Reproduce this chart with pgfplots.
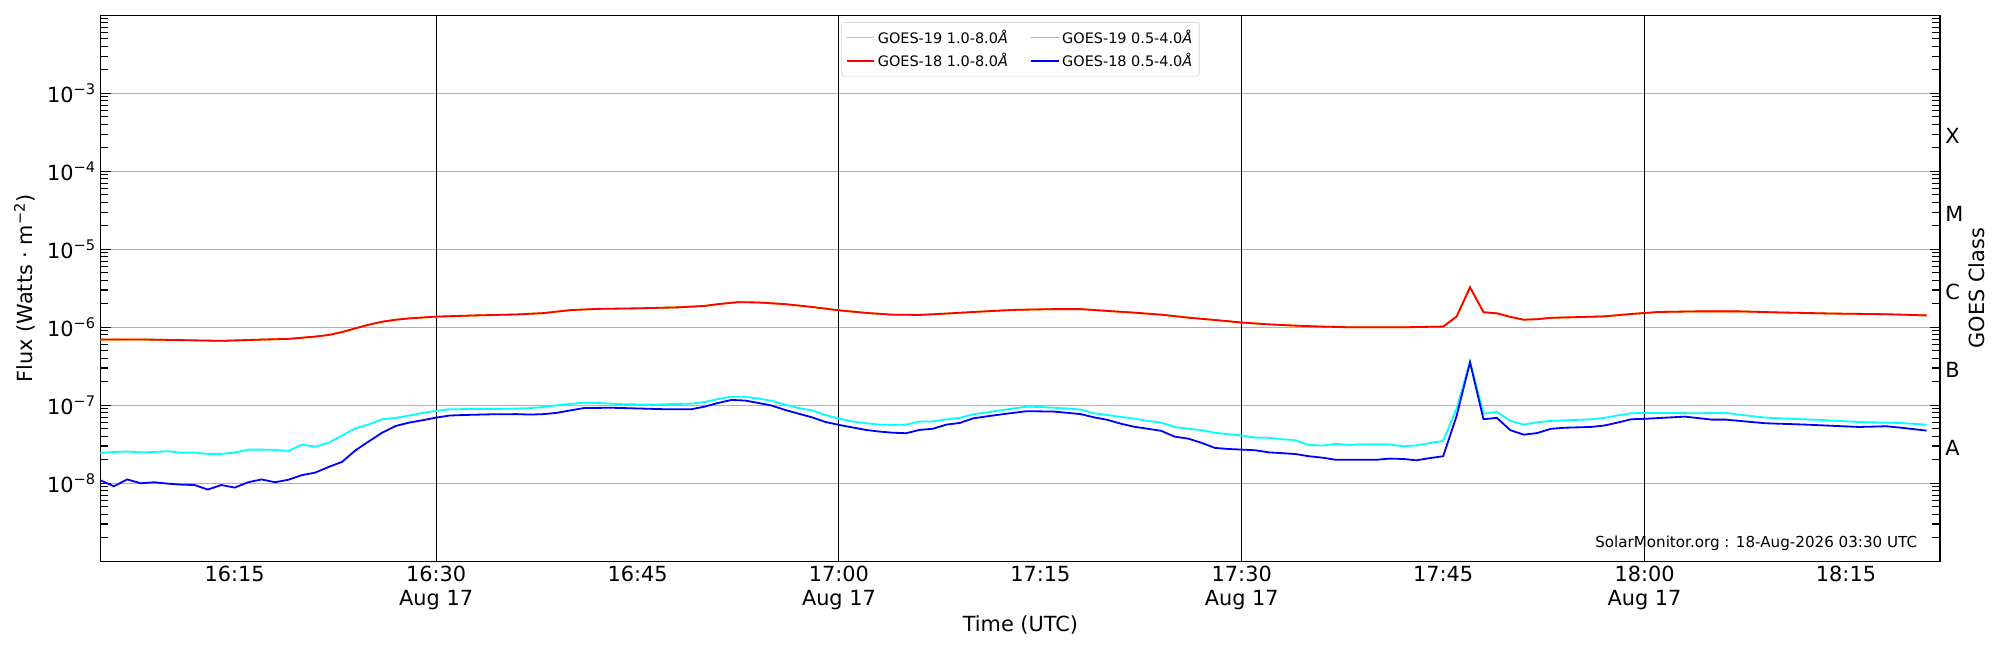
\documentclass[border=0pt]{standalone}
\usepackage{fontspec}
\setmainfont{DejaVu Sans}
\usepackage{pgfplots}
\usepackage{pgfplotstable}
\pgfplotsset{compat=1.18}

\definecolor{gold19}{HTML}{FFC000}
\definecolor{cyan19}{HTML}{00FFFF}
\definecolor{red18}{HTML}{FF0000}
\definecolor{blue18}{HTML}{0000FF}
\definecolor{gridgray}{HTML}{B0B0B0}

% time in minutes after 16:00 UT, flux in W m^-2
\pgfplotstableread{
t f
5 6.95e-7
8 6.98e-7
11 6.85e-7
14 6.7e-7
17 6.95e-7
19 7.1e-7
21 7.6e-7
22 7.97e-7
23 8.7e-7
24 9.7e-7
25 1.08e-6
26 1.18e-6
27 1.25e-6
28 1.3e-6
30 1.37e-6
33 1.42e-6
36 1.46e-6
38 1.52e-6
40 1.66e-6
42 1.72e-6
45 1.75e-6
48 1.80e-6
50 1.88e-6
51 1.98e-6
52.5 2.1e-6
54 2.08e-6
56 1.98e-6
58 1.82e-6
60 1.65e-6
62 1.53e-6
64 1.45e-6
66 1.44e-6
68 1.5e-6
70 1.57e-6
73 1.67e-6
76 1.71e-6
78 1.71e-6
80 1.62e-6
82 1.54e-6
84 1.45e-6
86 1.33e-6
88 1.24e-6
90 1.15e-6
92 1.09e-6
94 1.05e-6
96 1.02e-6
98 1.0e-6
102 1.0e-6
105 1.02e-6
106 1.37e-6
107 3.26e-6
108 1.56e-6
109 1.51e-6
110 1.36e-6
111 1.25e-6
112 1.27e-6
113 1.32e-6
115 1.35e-6
117 1.38e-6
119 1.48e-6
121 1.57e-6
124 1.6e-6
127 1.6e-6
130 1.55e-6
134 1.5e-6
138 1.47e-6
141 1.42e-6
}\longeighteen

\pgfplotstableread{
t f
5 6.93e-7
8 6.96e-7
11 6.83e-7
14 6.68e-7
17 6.93e-7
19 7.08e-7
21 7.58e-7
22 7.95e-7
23 8.68e-7
24 9.68e-7
25 1.078e-6
26 1.178e-6
27 1.248e-6
28 1.298e-6
30 1.368e-6
33 1.418e-6
36 1.458e-6
38 1.518e-6
40 1.658e-6
42 1.718e-6
45 1.748e-6
48 1.798e-6
50 1.878e-6
51 1.978e-6
52.5 2.098e-6
54 2.078e-6
56 1.978e-6
58 1.818e-6
60 1.648e-6
62 1.528e-6
64 1.448e-6
66 1.438e-6
68 1.498e-6
70 1.568e-6
73 1.668e-6
76 1.708e-6
78 1.708e-6
80 1.618e-6
82 1.538e-6
84 1.448e-6
86 1.328e-6
88 1.238e-6
90 1.148e-6
92 1.088e-6
94 1.048e-6
96 1.018e-6
98 0.998e-6
102 0.998e-6
105 1.018e-6
106 1.368e-6
107 3.25e-6
108 1.558e-6
109 1.508e-6
110 1.358e-6
111 1.248e-6
112 1.268e-6
113 1.318e-6
115 1.348e-6
117 1.378e-6
119 1.478e-6
121 1.568e-6
124 1.598e-6
127 1.598e-6
130 1.548e-6
134 1.498e-6
138 1.468e-6
141 1.418e-6
}\longnineteen

\pgfplotstableread{
t f
5 2.45e-8
6 2.52e-8
7 2.55e-8
8 2.49e-8
9 2.52e-8
10 2.57e-8
11 2.47e-8
12 2.47e-8
13 2.38e-8
14 2.38e-8
15 2.47e-8
16 2.70e-8
17 2.70e-8
18 2.68e-8
19 2.60e-8
20 3.13e-8
21 2.95e-8
22 3.32e-8
23 4.1e-8
24 5.07e-8
25 5.7e-8
26 6.62e-8
27 6.9e-8
28 7.38e-8
29 7.98e-8
30 8.46e-8
31 8.89e-8
33 8.95e-8
35 9.0e-8
37 9.2e-8
38 9.5e-8
39 1.0e-7
40 1.04e-7
41 1.08e-7
42 1.07e-7
44 1.03e-7
46 1.02e-7
48 1.04e-7
49 1.05e-7
50 1.1e-7
51 1.2e-7
52 1.29e-7
53 1.28e-7
54 1.22e-7
55 1.14e-7
56 1.02e-7
57 9.2e-8
58 8.6e-8
59 7.5e-8
60 6.75e-8
61 6.2e-8
62 5.9e-8
63 5.65e-8
64 5.6e-8
65 5.65e-8
66 6.2e-8
67 6.2e-8
68 6.6e-8
69 6.9e-8
70 7.67e-8
71 8.1e-8
72 8.6e-8
73 9.1e-8
74 9.6e-8
75 9.5e-8
76 9.3e-8
77 9.1e-8
78 8.8e-8
79 7.9e-8
80 7.5e-8
81 7.1e-8
82 6.75e-8
83 6.3e-8
84 6.0e-8
85 5.27e-8
86 5.0e-8
87 4.8e-8
88 4.45e-8
89 4.25e-8
90 4.1e-8
91 3.85e-8
92 3.83e-8
93 3.67e-8
94 3.56e-8
95 3.1e-8
96 3.04e-8
97 3.2e-8
98 3.1e-8
99 3.17e-8
100 3.15e-8
101 3.15e-8
102 2.98e-8
103 3.06e-8
104 3.28e-8
105 3.49e-8
106 9.06e-8
107 3.66e-7
108 7.8e-8
109 8.2e-8
110 6.3e-8
111 5.65e-8
112 6.05e-8
113 6.3e-8
114 6.4e-8
116 6.6e-8
117 6.9e-8
118 7.4e-8
119 7.9e-8
120 7.97e-8
122 7.95e-8
124 7.9e-8
126 8.0e-8
127 7.6e-8
129 6.95e-8
131 6.7e-8
133 6.5e-8
136 6.1e-8
139 5.93e-8
141 5.65e-8
}\shortnineteen

\pgfplotstableread{
t f
5 1.09e-8
6 9.15e-9
7 1.12e-8
8 1.0e-8
9 1.03e-8
10 9.9e-9
11 9.6e-9
12 9.5e-9
13 8.3e-9
14 9.5e-9
15 8.8e-9
16 1.03e-8
17 1.12e-8
18 1.03e-8
19 1.11e-8
20 1.27e-8
21 1.37e-8
22 1.62e-8
23 1.88e-8
24 2.65e-8
25 3.45e-8
26 4.47e-8
27 5.43e-8
28 6.0e-8
29 6.43e-8
30 6.95e-8
31 7.38e-8
32 7.5e-8
34 7.65e-8
36 7.7e-8
37 7.6e-8
38 7.7e-8
39 8.0e-8
40 8.6e-8
41 9.2e-8
43 9.3e-8
45 9.1e-8
47 8.9e-8
49 8.9e-8
50 9.6e-8
51 1.07e-7
52 1.17e-7
53 1.15e-7
54 1.07e-7
55 9.9e-8
56 8.7e-8
57 7.8e-8
58 7.0e-8
59 6.1e-8
60 5.6e-8
61 5.2e-8
62 4.83e-8
63 4.6e-8
64 4.45e-8
65 4.38e-8
66 4.83e-8
67 5.0e-8
68 5.65e-8
69 5.93e-8
70 6.8e-8
71 7.2e-8
72 7.6e-8
73 8.0e-8
74 8.4e-8
75 8.35e-8
76 8.3e-8
77 8.0e-8
78 7.7e-8
79 7.0e-8
80 6.5e-8
81 5.8e-8
82 5.3e-8
83 5.0e-8
84 4.7e-8
85 3.96e-8
86 3.74e-8
87 3.3e-8
88 2.84e-8
89 2.75e-8
90 2.7e-8
91 2.65e-8
92 2.49e-8
93 2.43e-8
94 2.37e-8
95 2.22e-8
96 2.13e-8
97 2.0e-8
98 2.0e-8
99 2.0e-8
100 2.0e-8
101 2.07e-8
102 2.05e-8
103 1.97e-8
104 2.1e-8
105 2.22e-8
106 7.3e-8
107 3.55e-7
108 6.62e-8
109 6.9e-8
110 4.79e-8
111 4.2e-8
112 4.4e-8
113 4.98e-8
114 5.15e-8
116 5.27e-8
117 5.5e-8
118 6.0e-8
119 6.62e-8
120 6.7e-8
121 6.85e-8
123 7.15e-8
125 6.55e-8
126 6.55e-8
129 5.88e-8
132 5.65e-8
134 5.45e-8
136 5.27e-8
138 5.38e-8
139 5.18e-8
141 4.73e-8
}\shorteighteen

\newcommand{\mainfont}{\fontsize{15}{17}\selectfont}
\newcommand{\smallfont}{\fontsize{10.4}{12}\selectfont}
\newcommand{\markfont}{\fontsize{10.9}{12}\selectfont}

\begin{document}
\begin{tikzpicture}
\path[use as bounding box] (-72.6pt,-63.9pt) rectangle (1367.4pt,404.1pt);
\begin{axis}[
  at={(0pt,0pt)}, anchor=south west,
  scale only axis, width=1324.2pt, height=393.1pt,
  clip=false,
  ymode=log,
  xmin=5.03, xmax=142, ymin=1e-9, ymax=1e-2,
  axis line style={black, line width=0.9pt},
  xtick={15,30,45,60,75,90,105,120,135},
  xticklabels={16:15,{16:30\\Aug 17},16:45,{17:00\\Aug 17},17:15,{17:30\\Aug 17},17:45,{18:00\\Aug 17},18:15},
  xticklabel style={align=center, font=\mainfont},
  x tick style={draw=none},
  ytick={1e-8,1e-7,1e-6,1e-5,1e-4,1e-3},
  yticklabels={10\textsuperscript{−8},10\textsuperscript{−7},10\textsuperscript{−6},10\textsuperscript{−5},10\textsuperscript{−4},10\textsuperscript{−3}},
  yticklabel style={font=\mainfont},
  minor ytick={2e-9,3e-9,4e-9,5e-9,6e-9,7e-9,8e-9,9e-9,
    2e-8,3e-8,4e-8,5e-8,6e-8,7e-8,8e-8,9e-8,
    2e-7,3e-7,4e-7,5e-7,6e-7,7e-7,8e-7,9e-7,
    2e-6,3e-6,4e-6,5e-6,6e-6,7e-6,8e-6,9e-6,
    2e-5,3e-5,4e-5,5e-5,6e-5,7e-5,8e-5,9e-5,
    2e-4,3e-4,4e-4,5e-4,6e-4,7e-4,8e-4,9e-4,
    2e-3,3e-3,4e-3,5e-3,6e-3,7e-3,8e-3,9e-3},
  y tick style={black, line width=0.8pt},
  major tick length=7pt, minor tick length=5.5pt,
  tick align=inside,
  ymajorgrids=true,
  major grid style={gridgray, line width=0.9pt},
  extra x ticks={30,60,90,120},
  extra x tick labels={,,,},
  extra x tick style={grid=major, major grid style={black, line width=0.8pt}, x tick style={draw=none}},
  xlabel={Time (UTC)},
  ylabel={Flux (Watts · m\textsuperscript{−2})},
  every axis x label/.style={at={(rel axis cs:0.5,0)}, yshift=-45.9pt, anchor=center, font=\mainfont},
  every axis y label/.style={at={(rel axis cs:0,0.5)}, xshift=-55pt, anchor=center, rotate=90, font=\mainfont},
  legend columns=2,
  legend cell align=left,
  legend style={at={(0.5,1)}, anchor=north, yshift=-4.8pt, draw=black!18, rounded corners=2pt,
    fill=white, fill opacity=0.8, text opacity=1, font=\smallfont, inner xsep=3pt, inner ysep=3.5pt,
    row sep=1.5pt,
    /tikz/every even column/.append style={column sep=14pt}},
  legend image code/.code={\draw[#1, line width=1.1pt] (0pt,0pt) -- (20pt,0pt);},
]
\addplot[gold19, line width=1.3pt] table[x=t, y=f] {\longnineteen};
\addlegendentry{GOES-19 1.0-8.0\textit{Å}}
\addplot[cyan19, line width=1.3pt] table[x=t, y=f] {\shortnineteen};
\addlegendentry{GOES-19 0.5-4.0\textit{Å}}
\addplot[red18, line width=1.3pt] table[x=t, y=f] {\longeighteen};
\addlegendentry{GOES-18 1.0-8.0\textit{Å}}
\addplot[blue18, line width=1.3pt] table[x=t, y=f] {\shorteighteen};
\addlegendentry{GOES-18 0.5-4.0\textit{Å}}

\node[anchor=west, inner sep=0pt, font=\mainfont] at ([xshift=3.6pt, yshift=-2.7pt]rel axis cs:1,0.2143) {A};
\node[anchor=west, inner sep=0pt, font=\mainfont] at ([xshift=3.6pt, yshift=-2.7pt]rel axis cs:1,0.3571) {B};
\node[anchor=west, inner sep=0pt, font=\mainfont] at ([xshift=3.6pt, yshift=-2.7pt]rel axis cs:1,0.5) {C};
\node[anchor=west, inner sep=0pt, font=\mainfont] at ([xshift=3.6pt, yshift=-2.7pt]rel axis cs:1,0.6429) {M};
\node[anchor=west, inner sep=0pt, font=\mainfont] at ([xshift=3.6pt, yshift=-2.7pt]rel axis cs:1,0.7857) {X};
\node[rotate=90, anchor=center, font=\mainfont] at ([xshift=26.6pt]rel axis cs:1,0.5) {GOES Class};
\node[anchor=east, font=\markfont] at ([xshift=-12.9pt, yshift=13.2pt]rel axis cs:1,0) {SolarMonitor.org : 18-Aug-2026 03:30 UTC};
\end{axis}
\end{tikzpicture}
\end{document}
